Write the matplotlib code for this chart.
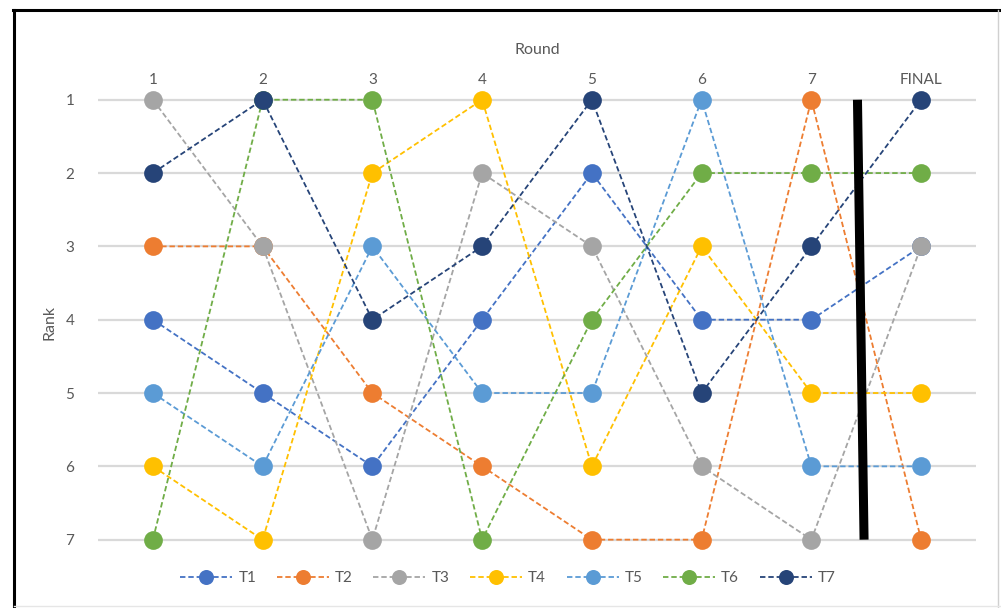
import matplotlib
matplotlib.use("Agg")
import matplotlib.pyplot as plt
from matplotlib.lines import Line2D

plt.rcParams['font.family'] = ['Lato', 'DejaVu Sans']

rounds = ['1', '2', '3', '4', '5', '6', '7', 'FINAL']
teams = ['T1', 'T2', 'T3', 'T4', 'T5', 'T6', 'T7']
ranks_t1 = [4, 5, 6, 4, 2, 4, 4, 3]
ranks_t2 = [3, 3, 5, 6, 7, 7, 1, 7]
ranks_t3 = [1, 3, 7, 2, 3, 6, 7, 3]
ranks_t4 = [6, 7, 2, 1, 6, 3, 5, 5]
ranks_t5 = [5, 6, 3, 5, 5, 1, 6, 6]
ranks_t6 = [7, 1, 1, 7, 4, 2, 2, 2]
ranks_t7 = [2, 1, 4, 3, 1, 5, 3, 1]
colors = ['#4472C4', '#ED7D31', '#A5A5A5', '#FFC000', '#5B9BD5', '#70AD47', '#264478']

all_ranks = [ranks_t1, ranks_t2, ranks_t3, ranks_t4, ranks_t5, ranks_t6, ranks_t7]
txt = '#595959'

fig = plt.figure(figsize=(10.01, 6.08), dpi=100)
ax = fig.add_axes([98 / 1001, 1 - 558 / 608, 878 / 1001, 470 / 608])

x = list(range(1, len(rounds) + 1))
for name, r, c in zip(teams, all_ranks, colors):
    ax.plot(x, r, color=c, lw=1.3, ls=(0, (3, 1.6)), marker='o', ms=13.5,
            markeredgewidth=0, label=name, clip_on=False)

# cut-off bar before the final standings
ax.plot([7.42, 7.48], [1, 7], color='black', lw=6.5, solid_capstyle='butt', zorder=10)

ax.set_xlim(0.5, 8.5)
ax.set_ylim(7.25, 0.84)
ax.set_yticks(range(1, 8))
ax.set_xticks(x)
ax.set_xticklabels(rounds)
ax.xaxis.tick_top()
ax.tick_params(axis='both', length=0, labelsize=11, labelcolor=txt)
ax.tick_params(axis='y', pad=17)
ax.tick_params(axis='x', pad=1)
ax.yaxis.grid(True, color='#D9D9D9', lw=1.6)
ax.set_axisbelow(True)
for s in ax.spines.values():
    s.set_visible(False)

ax.xaxis.set_label_position('top')
ax.set_xlabel('Round', fontsize=11.5, color=txt)
ax.xaxis.set_label_coords(0.5, 1.073)
ax.set_ylabel('Rank', fontsize=11.5, color=txt)
ax.yaxis.set_label_coords(-0.047, 0.5)

fig.legend(loc='center', bbox_to_anchor=(508 / 1001, 1 - 578 / 608), ncol=7,
           frameon=False, fontsize=11, labelcolor=txt, handlelength=3.4,
           handletextpad=0.4, columnspacing=1.35, markerscale=0.8)

# chart frame
fig.add_artist(Line2D([14 / 1001, 14 / 1001], [0, 1 - 10 / 608], color='black', lw=2.2))
fig.add_artist(Line2D([13 / 1001, 1], [1 - 10 / 608, 1 - 10 / 608], color='black', lw=2.2))
fig.add_artist(Line2D([998 / 1001, 998 / 1001], [0, 1 - 10 / 608], color='#D0D0D0', lw=1))
fig.add_artist(Line2D([14 / 1001, 1], [2 / 608, 2 / 608], color='#E6E6E6', lw=1))

fig.savefig('out.png', dpi=100)
